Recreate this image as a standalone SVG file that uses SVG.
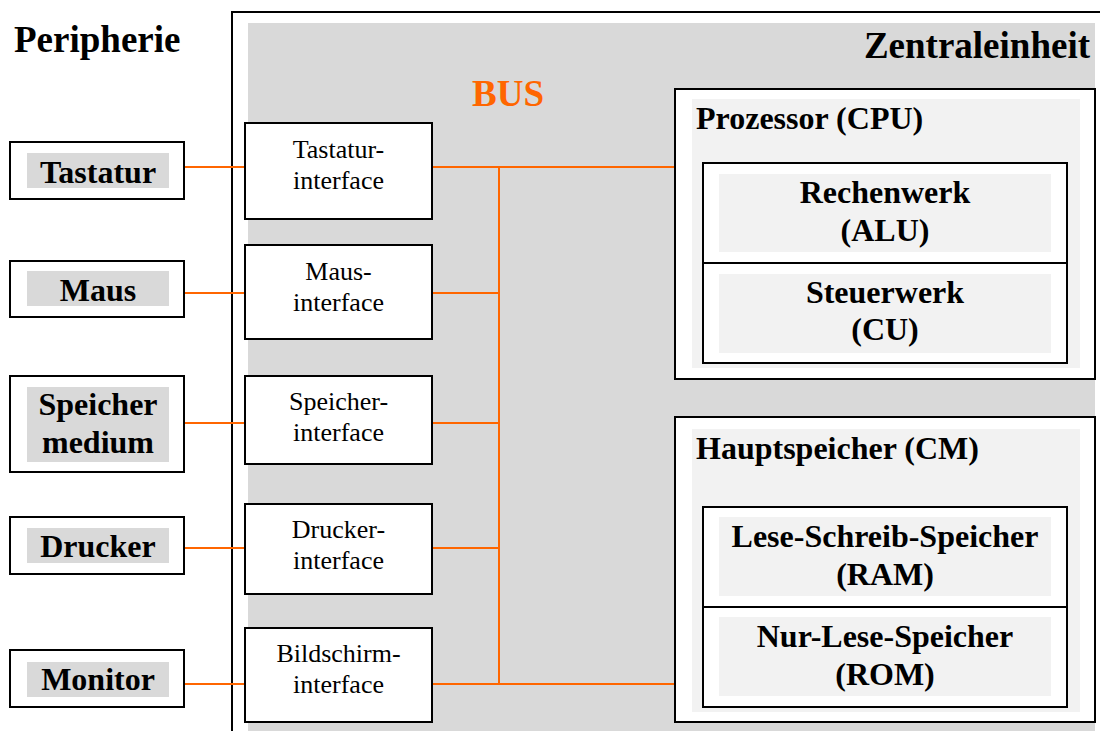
<svg xmlns="http://www.w3.org/2000/svg" width="1100" height="731" viewBox="0 0 1100 731">
<style>
.title{font-family:"Liberation Serif","Times New Roman",serif;font-weight:bold;font-size:37px;fill:#000}
.bus{font-family:"Liberation Serif","Times New Roman",serif;font-weight:bold;font-size:37px;fill:#FF6600}
.plab{font-family:"Liberation Serif","Times New Roman",serif;font-weight:bold;font-size:32px;fill:#000;text-anchor:middle}
.ilab{font-family:"Liberation Serif","Times New Roman",serif;font-size:26px;fill:#000;text-anchor:middle}
.blab{font-family:"Liberation Serif","Times New Roman",serif;font-weight:bold;font-size:32px;fill:#000}
.box{fill:#fff;stroke:#000;stroke-width:2}
.pbg{fill:#D9D9D9}
.lbg{fill:#F2F2F2}
.conn{stroke:#FF6600;stroke-width:2;fill:none}
</style>
<rect x="0" y="0" width="1100" height="731" fill="#fff"/>
<g id="zentraleinheit">
<rect x="232" y="12" width="900" height="740" fill="#fff" stroke="#000" stroke-width="2"/>
<rect x="248" y="23" width="847" height="720" fill="#D9D9D9"/>
<text class="title" x="1090" y="58" text-anchor="end">Zentraleinheit</text>
</g>
<text id="peripherie" class="title" x="14" y="52">Peripherie</text>
<text id="bus-label" class="bus" x="472" y="106">BUS</text>
<g id="connectors">
<line class="conn" x1="184" y1="167" x2="245" y2="167"/>
<line class="conn" x1="184" y1="293" x2="245" y2="293"/>
<line class="conn" x1="184" y1="423" x2="245" y2="423"/>
<line class="conn" x1="184" y1="548" x2="245" y2="548"/>
<line class="conn" x1="184" y1="684" x2="245" y2="684"/>
<line class="conn" x1="432" y1="167" x2="675" y2="167"/>
<line class="conn" x1="432" y1="293" x2="499" y2="293"/>
<line class="conn" x1="432" y1="423" x2="499" y2="423"/>
<line class="conn" x1="432" y1="548" x2="499" y2="548"/>
<line class="conn" x1="432" y1="684" x2="675" y2="684"/>
<line class="conn" x1="499" y1="167" x2="499" y2="684"/>
</g>
<g id="tastatur">
<rect class="box" x="10" y="142" width="174" height="57"/>
<rect class="pbg" x="27" y="153" width="142" height="35"/>
<text class="plab" x="98" y="183">Tastatur</text>
</g>
<g id="maus">
<rect class="box" x="10" y="261" width="174" height="56"/>
<rect class="pbg" x="27" y="271" width="142" height="35"/>
<text class="plab" x="98" y="301">Maus</text>
</g>
<g id="speichermedium">
<rect class="box" x="10" y="376" width="174" height="96"/>
<rect class="pbg" x="27" y="387" width="142" height="75"/>
<text class="plab" x="98" y="415">Speicher</text>
<text class="plab" x="98" y="453">medium</text>
</g>
<g id="drucker">
<rect class="box" x="10" y="517" width="174" height="57"/>
<rect class="pbg" x="27" y="528" width="142" height="35"/>
<text class="plab" x="98" y="557">Drucker</text>
</g>
<g id="monitor">
<rect class="box" x="10" y="650" width="174" height="57"/>
<rect class="pbg" x="27" y="662" width="142" height="35"/>
<text class="plab" x="98" y="690">Monitor</text>
</g>
<g id="tastatur-interface">
<rect class="box" x="245" y="123" width="187" height="96"/>
<text class="ilab" x="338.5" y="158">Tastatur-</text>
<text class="ilab" x="338.5" y="189">interface</text>
</g>
<g id="maus-interface">
<rect class="box" x="245" y="245" width="187" height="94"/>
<text class="ilab" x="338.5" y="280">Maus-</text>
<text class="ilab" x="338.5" y="311">interface</text>
</g>
<g id="speicher-interface">
<rect class="box" x="245" y="376" width="187" height="88"/>
<text class="ilab" x="338.5" y="410">Speicher-</text>
<text class="ilab" x="338.5" y="441">interface</text>
</g>
<g id="drucker-interface">
<rect class="box" x="245" y="504" width="187" height="90"/>
<text class="ilab" x="338.5" y="538">Drucker-</text>
<text class="ilab" x="338.5" y="569">interface</text>
</g>
<g id="bildschirm-interface">
<rect class="box" x="245" y="628" width="187" height="94"/>
<text class="ilab" x="338.5" y="662">Bildschirm-</text>
<text class="ilab" x="338.5" y="693">interface</text>
</g>
<g id="prozessor">
<rect class="box" x="675" y="89" width="420" height="290"/>
<rect class="lbg" x="692" y="99" width="388" height="269"/>
<text class="blab" x="696" y="129">Prozessor (CPU)</text>
<rect class="box" x="703" y="163" width="364" height="200"/>
<line x1="703" y1="263" x2="1067" y2="263" stroke="#000" stroke-width="2"/>
<rect class="lbg" x="719" y="174" width="332" height="78"/>
<rect class="lbg" x="719" y="274" width="332" height="79"/>
<text class="blab" x="885" y="203" text-anchor="middle">Rechenwerk</text>
<text class="blab" x="885" y="241" text-anchor="middle">(ALU)</text>
<text class="blab" x="885" y="303" text-anchor="middle">Steuerwerk</text>
<text class="blab" x="885" y="340" text-anchor="middle">(CU)</text>
</g>
<g id="hauptspeicher">
<rect class="box" x="675" y="417" width="420" height="305"/>
<rect class="lbg" x="692" y="429" width="388" height="283"/>
<text class="blab" x="696" y="459">Hauptspeicher (CM)</text>
<rect class="box" x="703" y="507" width="364" height="200"/>
<line x1="703" y1="607" x2="1067" y2="607" stroke="#000" stroke-width="2"/>
<rect class="lbg" x="719" y="517" width="332" height="79"/>
<rect class="lbg" x="719" y="617" width="332" height="79"/>
<text class="blab" x="885" y="547" text-anchor="middle">Lese-Schreib-Speicher</text>
<text class="blab" x="885" y="585" text-anchor="middle">(RAM)</text>
<text class="blab" x="885" y="647" text-anchor="middle">Nur-Lese-Speicher</text>
<text class="blab" x="885" y="685" text-anchor="middle">(ROM)</text>
</g>
</svg>
